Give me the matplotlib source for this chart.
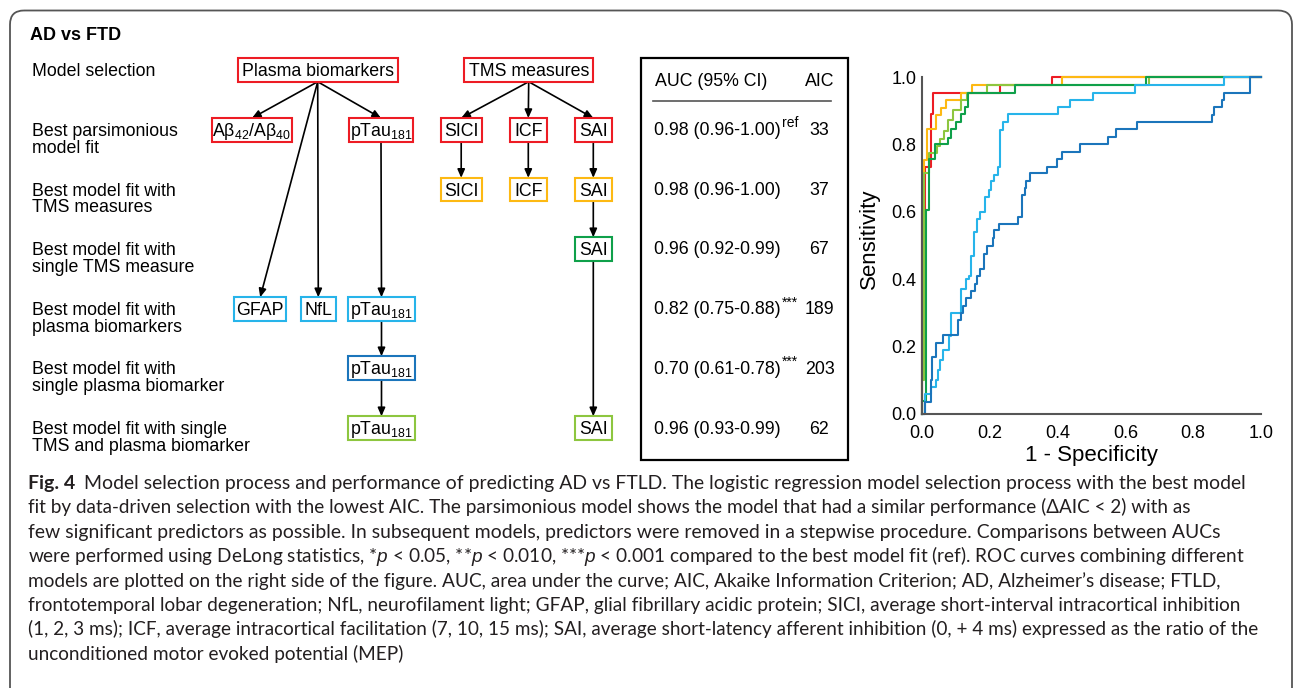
import numpy as np
import matplotlib
matplotlib.use("Agg")
import matplotlib.pyplot as plt
from matplotlib.patches import Rectangle, FancyBboxPatch

plt.rcParams['font.family'] = 'Liberation Sans'
plt.rcParams['mathtext.fontset'] = 'custom'
plt.rcParams['mathtext.rm'] = 'Liberation Sans'
plt.rcParams['mathtext.it'] = 'Liberation Sans:italic'
plt.rcParams['mathtext.bf'] = 'Liberation Sans:bold'

# ---------------- data ----------------
panel_title = "AD vs FTD"
row_labels = [
    ["Model selection"],
    ["Best parsimonious", "model fit"],
    ["Best model fit with", "TMS measures"],
    ["Best model fit with", "single TMS measure"],
    ["Best model fit with", "plasma biomarkers"],
    ["Best model fit with", "single plasma biomarker"],
    ["Best model fit with single", "TMS and plasma biomarker"],
]
auc_labels = ["0.98 (0.96-1.00)", "0.98 (0.96-1.00)", "0.96 (0.92-0.99)",
              "0.82 (0.75-0.88)", "0.70 (0.61-0.78)", "0.96 (0.93-0.99)"]
auc_marks = ["ref", "", "", "***", "***", ""]
aic_values = [33, 37, 67, 189, 203, 62]

# ROC curves, (1 - specificity, sensitivity) at every step
red_fpr = [0, 0, 0.009, 0.027, 0.031, 0.23, 0.383, 1.0]
red_tpr = [0, 0.605, 0.734, 0.889, 0.953, 0.975, 1.0, 1.0]

yellow_fpr = [0, 0, 0.005, 0.016, 0.04, 0.055, 0.071, 0.115, 0.147, 0.413, 1.0]
yellow_tpr = [0, 0.6, 0.754, 0.845, 0.887, 0.909, 0.932, 0.953, 0.975, 1.0, 1.0]

lgreen_fpr = [0, 0, 0.007, 0.021, 0.044, 0.053, 0.066, 0.078, 0.092, 0.115, 0.132, 0.191, 0.669, 1.0]
lgreen_tpr = [0, 0.1, 0.714, 0.774, 0.795, 0.815, 0.84, 0.872, 0.902, 0.932, 0.953, 0.975, 1.0, 1.0]

green_fpr = [0, 0, 0.012, 0.02, 0.039, 0.078, 0.087, 0.10, 0.116, 0.126, 0.136, 0.274, 0.662, 1.0]
green_tpr = [0, 0.04, 0.605, 0.757, 0.80, 0.82, 0.845, 0.867, 0.889, 0.91, 0.953, 0.975, 1.0, 1.0]

lblue_fpr = [0, 0.01, 0.028, 0.042, 0.047, 0.054, 0.062, 0.079, 0.085, 0.116, 0.131, 0.139,
             0.146, 0.154, 0.161, 0.17, 0.185, 0.198, 0.205, 0.212, 0.223, 0.23, 0.238,
             0.253, 0.402, 0.437, 0.503, 0.627, 0.891, 1.0]
lblue_tpr = [0, 0.06, 0.08, 0.10, 0.13, 0.16, 0.19, 0.23, 0.30, 0.37, 0.40, 0.41,
             0.47, 0.54, 0.58, 0.60, 0.645, 0.665, 0.69, 0.71, 0.734, 0.843, 0.867,
             0.889, 0.91, 0.932, 0.953, 0.975, 1.0, 1.0]

dblue_fpr = [0, 0.009, 0.026, 0.03, 0.04, 0.063, 0.107, 0.114, 0.122, 0.131, 0.145, 0.155,
             0.161, 0.17, 0.184, 0.192, 0.208, 0.212, 0.227, 0.282, 0.296, 0.303, 0.308,
             0.318, 0.368, 0.397, 0.412, 0.466, 0.55, 0.572, 0.633, 0.855, 0.861, 0.884,
             0.892, 0.968, 1.0]
dblue_tpr = [0, 0.037, 0.10, 0.17, 0.21, 0.234, 0.279, 0.30, 0.32, 0.343, 0.365, 0.387,
             0.41, 0.43, 0.474, 0.50, 0.522, 0.545, 0.565, 0.584, 0.65, 0.67, 0.69,
             0.714, 0.734, 0.756, 0.778, 0.801, 0.823, 0.845, 0.866, 0.887, 0.91, 0.932,
             0.953, 1.0, 1.0]

caption_lines = [
    "Model selection process and performance of predicting AD vs FTLD. The logistic regression model selection process with the best model",
    "fit by data-driven selection with the lowest AIC. The parsimonious model shows the model that had a similar performance (\u0394AIC < 2) with as",
    "few significant predictors as possible. In subsequent models, predictors were removed in a stepwise procedure. Comparisons between AUCs",
    "were performed using DeLong statistics, *$\\mathit{p}$ < 0.05, **$\\mathit{p}$ < 0.010, ***$\\mathit{p}$ < 0.001 compared to the best model fit (ref). ROC curves combining different",
    "models are plotted on the right side of the figure. AUC, area under the curve; AIC, Akaike Information Criterion; AD, Alzheimer\u2019s disease; FTLD,",
    "frontotemporal lobar degeneration; NfL, neurofilament light; GFAP, glial fibrillary acidic protein; SICI, average short-interval intracortical inhibition",
    "(1, 2, 3 ms); ICF, average intracortical facilitation (7, 10, 15 ms); SAI, average short-latency afferent inhibition (0, + 4 ms) expressed as the ratio of the",
    "unconditioned motor evoked potential (MEP)",
]
# right end of each caption line in the reference (None = not fitted)
caption_ends = [1244, 1186, 1215, 1243, 1219, 1244, 1257, None]

# ---------------- styles ----------------
RED, YEL, GRN, LGRN, LBLU, DBLU = '#ed1c24', '#fdb913', '#0fa04a', '#8dc63f', '#27b4ea', '#1b75bb'
W, H = 1295, 688
FS = 12.8
row_y = [70, 129.8, 189.6, 249, 309, 368, 428]

fig = plt.figure(figsize=(W / 100, H / 100), dpi=100)
ax = fig.add_axes([0, 0, 1, 1])
ax.set_xlim(0, W)
ax.set_ylim(H, 0)
ax.axis('off')
renderer = fig.canvas.get_renderer()

# outer rounded frame
ax.add_patch(FancyBboxPatch((10, 10.5), 1282, 720, boxstyle='round,pad=0,rounding_size=14',
                            ec='#555555', fc='none', lw=1.3))

ax.text(30, 40, panel_title, fontsize=13, fontweight='bold', va='baseline')

for ry, lines in zip(row_y, row_labels):
    for k, line in enumerate(lines):
        ax.text(32, ry + 6 + 16.8 * k, line, fontsize=FS, va='baseline')

# model selection nodes: label, centre x, row, box width, colour
nodes = [
    ("Plasma biomarkers", 317.7, 0, 160, RED),
    ("TMS measures", 528.7, 0, 129, RED),
    ("A\u03b2$_{\\mathrm{42}}$/A\u03b2$_{\\mathrm{40}}$", 252, 1, 80, RED),
    ("pTau$_{\\mathrm{181}}$", 381, 1, 64, RED),
    ("SICI", 461.2, 1, 41, RED),
    ("ICF", 528.3, 1, 36.7, RED),
    ("SAI", 593.3, 1, 36.7, RED),
    ("SICI", 461.2, 2, 41, YEL),
    ("ICF", 528.3, 2, 36.7, YEL),
    ("SAI", 593.3, 2, 36.7, YEL),
    ("SAI", 593.3, 3, 36.7, GRN),
    ("GFAP", 260.2, 4, 51.7, LBLU),
    ("NfL", 318.3, 4, 35.3, LBLU),
    ("pTau$_{\\mathrm{181}}$", 381.5, 4, 66.7, LBLU),
    ("pTau$_{\\mathrm{181}}$", 381.5, 5, 66.7, DBLU),
    ("pTau$_{\\mathrm{181}}$", 381.5, 6, 66.7, LGRN),
    ("SAI", 593.3, 6, 36.7, LGRN),
]
BH = 23.5
for label, cx, r, bw, col in nodes:
    cy = row_y[r]
    ax.add_patch(Rectangle((cx - bw / 2, cy - BH / 2), bw, BH, fc='white', ec=col, lw=1.5, zorder=3))
    ax.text(cx, cy + 6, label, fontsize=FS, ha='center', va='baseline', zorder=4)

edges = [(0, 2), (0, 3), (0, 11), (0, 12), (3, 13), (13, 14), (14, 15),
         (1, 4), (1, 5), (1, 6), (4, 7), (5, 8), (6, 9), (9, 10), (10, 16)]
for a, b in edges:
    xa, ya = nodes[a][1], row_y[nodes[a][2]] + BH / 2
    xb, yb = nodes[b][1], row_y[nodes[b][2]] - BH / 2
    ax.annotate('', xy=(xb, yb), xytext=(xa, ya), zorder=2,
                arrowprops=dict(arrowstyle='-|>,head_length=0.5,head_width=0.22',
                                color='black', lw=1.2, mutation_scale=10,
                                shrinkA=0, shrinkB=0))

# AUC / AIC table
ax.add_patch(Rectangle((640.5, 57.5), 207, 402, fc='none', ec='black', lw=1.6))
ax.text(655, 86.5, "AUC (95% CI)", fontsize=FS, va='baseline')
ax.text(819.5, 86.5, "AIC", fontsize=FS, va='baseline', ha='center')
ax.plot([653, 831], [100.7, 100.7], color='#555555', lw=1.2)
for ry, auc, mark, aic in zip(row_y[1:], auc_labels, auc_marks, aic_values):
    t = ax.text(653.5, ry + 5.5, auc, fontsize=FS, va='baseline')
    if mark:
        x_end = t.get_window_extent(renderer).x1
        ax.text(x_end + 1.5, ry - 2.5, mark, fontsize=10, va='baseline')
    ax.text(819.5, ry + 5.5, str(aic), fontsize=FS, va='baseline', ha='center')

# ROC panel
axr = fig.add_axes([922 / W, 1 - 414 / H, 339 / W, 337 / H])
curves = [(red_fpr, red_tpr, RED), (yellow_fpr, yellow_tpr, YEL),
          (lgreen_fpr, lgreen_tpr, LGRN), (green_fpr, green_tpr, GRN),
          (lblue_fpr, lblue_tpr, LBLU), (dblue_fpr, dblue_tpr, DBLU)]
for fpr, tpr, col in curves:
    axr.step(fpr, tpr, where='post', color=col, lw=1.5, clip_on=False)
axr.set_xlim(0, 1)
axr.set_ylim(0, 1)
ticks = np.arange(0, 1.01, 0.2)
axr.set_xticks(ticks)
axr.set_yticks(ticks)
axr.set_xticklabels([f"{v:.1f}" for v in ticks])
axr.set_yticklabels([f"{v:.1f}" for v in ticks])
axr.tick_params(length=0, labelsize=13)
axr.tick_params(axis='x', pad=8)
axr.tick_params(axis='y', pad=4)
for s in ['top', 'right']:
    axr.spines[s].set_visible(False)
for s in ['left', 'bottom']:
    axr.spines[s].set_color('#555555')
    axr.spines[s].set_linewidth(1.5)
axr.set_xlabel("1 - Specificity", fontsize=16, labelpad=2)
axr.set_ylabel("Sensitivity", fontsize=16)
axr.yaxis.set_label_coords(-0.125, 0.52)
axr.patch.set_alpha(0)

# caption: each line sized to end where the reference line ends
cap_font = ['Lato', 'DejaVu Sans']
cap_col = '#231f20'
x0 = 28.5
base_size = 13.0

fig_t = ax.text(x0, 489, "Fig. 4", fontsize=14, fontweight='bold', family=cap_font,
                color=cap_col, va='baseline')
first_x = fig_t.get_window_extent(renderer).x1 + 8

sizes = []
for i, (line, x_end) in enumerate(zip(caption_lines, caption_ends)):
    xl = first_x if i == 0 else x0
    y = 489 + 24.4 * i
    if x_end is None:
        size = float(np.median(sizes))
    else:
        probe = ax.text(xl, y, line, fontsize=base_size, family=cap_font, va='baseline')
        wd = probe.get_window_extent(renderer).x1 - xl
        probe.remove()
        size = base_size * (x_end - xl) / wd
        sizes.append(size)
    ax.text(xl, y, line, fontsize=size, family=cap_font, color=cap_col, va='baseline')

fig.savefig("out.png", dpi=100)
